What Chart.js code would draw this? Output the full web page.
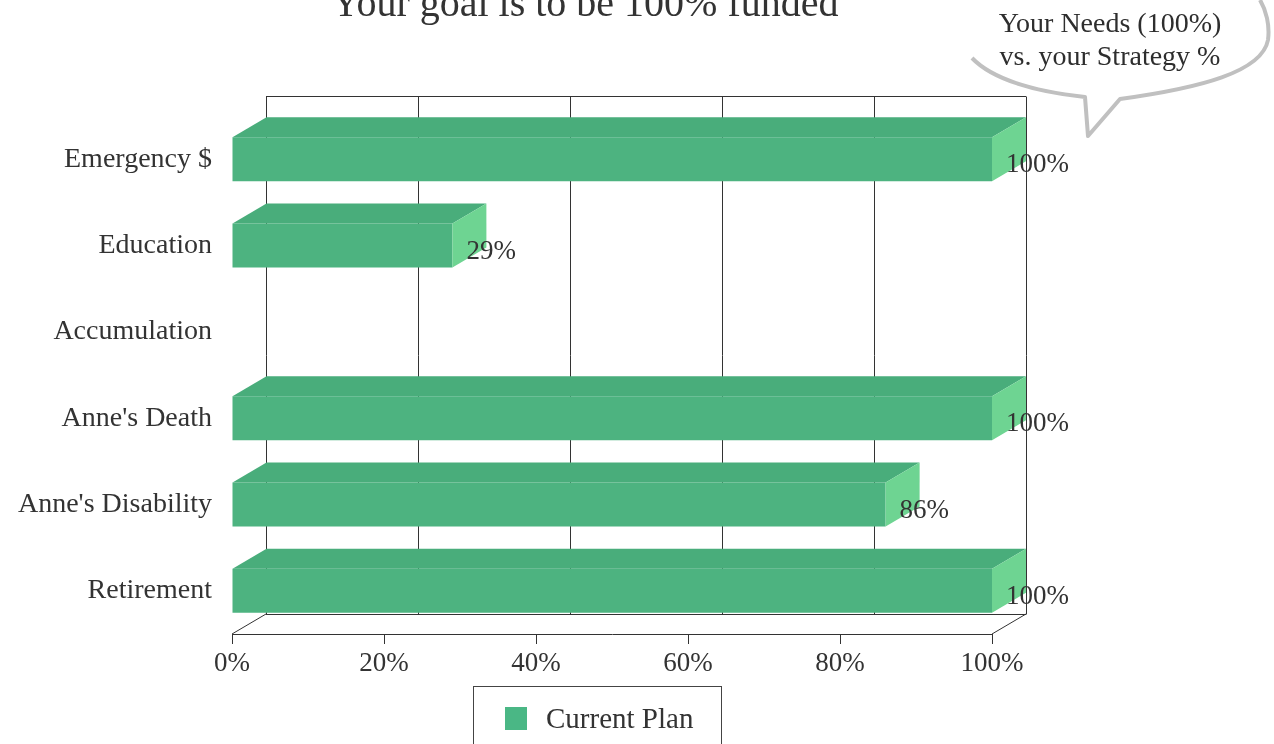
<!DOCTYPE html>
<html lang="en">
<head>
  <meta charset="UTF-8" />
  <title>Your goal is to be 100% funded</title>
  <script src="https://cdn.jsdelivr.net/npm/chart.js"></script>
  <style>
    body { margin: 0; background: #fff; }
    #wrap { position: relative; width: 1274px; height: 744px; overflow: hidden; font-family: 'Liberation Serif', 'Times New Roman', serif; color: #333; }
    #chart { position: absolute; left: 0; top: 0; }
    #title { position: absolute; left: 585px; top: -17px; transform: translateX(-50%); font-size: 40px; line-height: 40px; white-space: nowrap; }
    #bubble { position: absolute; left: 0; top: 0; }
    .note { position: absolute; left: 1110px; transform: translateX(-50%); font-size: 28px; line-height: 29px; white-space: nowrap; color: #2e2e2e; }
    #legend { position: absolute; left: 473px; top: 686px; width: 249px; height: 80px; border: 1px solid #444; box-sizing: border-box; }
    #legend .swatch { position: absolute; left: 31px; top: 20px; width: 22px; height: 23px; background: #4ab785; }
    #legend .label { position: absolute; left: 72px; top: 16px; font-size: 29px; line-height: 30px; white-space: nowrap; }
  </style>
</head>
<body>
  <div id="wrap">
    <canvas id="chart" width="1274" height="744"></canvas>
    <div id="title">Your goal is to be 100% funded</div>
    <svg id="bubble" width="1274" height="744">
      <path d="M 970 50 C 950 0, 1050 -40, 1130 -38 C 1230 -36, 1275 0, 1268 40 C 1262 72, 1200 88, 1120 99 L 1088 136 L 1086 97 C 1040 95, 990 82, 970 50 Z"
            fill="#fff" stroke="none" />
      <path d="M 972 58 C 995 82, 1040 92, 1085 97 L 1088 136 L 1120 99 C 1200 88, 1262 72, 1268 40 C 1270 25, 1266 10, 1260 0"
            fill="none" stroke="#c0c0c0" stroke-width="4" stroke-linejoin="round" />
    </svg>
    <div class="note" style="top:8px">Your Needs (100%)</div>
    <div class="note" style="top:41px">vs. your Strategy %</div>
    <div id="legend"><div class="swatch"></div><div class="label" id="legendLabel"></div></div>
  </div>

  <script>
    const categories = ['Emergency $', 'Education', 'Accumulation', "Anne's Death", "Anne's Disability", 'Retirement'];
    const currentPlan = [100, 29, 0, 100, 86, 100];
    const seriesName = 'Current Plan';

    // depth of the fake 3D extrusion
    const DX = 34, DY = -20;
    const FRONT = '#4db380', TOP = '#49ad7b', SIDE = '#6ed492';
    const serif = 'Liberation Serif';

    document.getElementById('legendLabel').textContent = seriesName;

    const line = (ctx, x1, y1, x2, y2) => {
      ctx.beginPath();
      ctx.moveTo(x1, y1);
      ctx.lineTo(x2, y2);
      ctx.stroke();
    };

    const box3d = {
      id: 'box3d',
      beforeDatasetsDraw(chart) {
        const { ctx, chartArea: a, scales: { x } } = chart;
        ctx.save();
        ctx.strokeStyle = '#333';
        ctx.lineWidth = 1;
        const top = Math.round(a.top + DY) + 0.5;
        const floor = Math.round(a.bottom + DY) + 0.5;
        // back wall
        line(ctx, a.left + DX, top, a.right + DX, top);
        x.ticks.forEach(t => {
          const px = Math.round(x.getPixelForValue(t.value) + DX) + 0.5;
          line(ctx, px, top, px, floor);
        });
        // floor
        line(ctx, a.left + DX, floor, a.right + DX, floor);
        line(ctx, a.left, a.bottom, a.left + DX, a.bottom + DY);
        line(ctx, a.right, a.bottom, a.right + DX, a.bottom + DY);
        ctx.restore();
      },
      afterDatasetsDraw(chart) {
        const { ctx } = chart;
        const meta = chart.getDatasetMeta(0);
        ctx.save();
        meta.data.forEach((bar, i) => {
          const v = currentPlan[i];
          if (!v) return;
          const { x, y, base, height } = bar.getProps(['x', 'y', 'base', 'height'], true);
          const y0 = y - height / 2, y1 = y + height / 2;
          // top face
          ctx.fillStyle = TOP;
          ctx.beginPath();
          ctx.moveTo(base, y0);
          ctx.lineTo(base + DX, y0 + DY);
          ctx.lineTo(x + DX, y0 + DY);
          ctx.lineTo(x, y0);
          ctx.closePath();
          ctx.fill();
          // end face
          ctx.fillStyle = SIDE;
          ctx.beginPath();
          ctx.moveTo(x, y0);
          ctx.lineTo(x + DX, y0 + DY);
          ctx.lineTo(x + DX, y1 + DY);
          ctx.lineTo(x, y1);
          ctx.closePath();
          ctx.fill();
          // value label
          ctx.fillStyle = '#333';
          ctx.font = `27px "${serif}"`;
          ctx.textAlign = 'left';
          ctx.textBaseline = 'middle';
          ctx.fillText(v + '%', x + 14, y + 6);
        });
        ctx.restore();
      }
    };

    new Chart(document.getElementById('chart'), {
      type: 'bar',
      data: {
        labels: categories,
        datasets: [{
          label: seriesName,
          data: currentPlan,
          backgroundColor: FRONT,
          borderWidth: 0,
          categoryPercentage: 1,
          barPercentage: 0.51
        }]
      },
      options: {
        indexAxis: 'y',
        responsive: false,
        animation: false,
        layout: { padding: { top: 116, right: 282, bottom: 0, left: 0 } },
        plugins: {
          legend: { display: false },
          tooltip: { enabled: false }
        },
        scales: {
          x: {
            min: 0,
            max: 100,
            afterFit: s => { s.height = 110; },
            ticks: {
              stepSize: 20,
              maxRotation: 0,
              padding: 4,
              color: '#333',
              font: { family: serif, size: 27 },
              callback: v => v + '%'
            },
            grid: { drawOnChartArea: false, tickLength: 10, color: '#333' },
            border: { display: true, color: '#333' }
          },
          y: {
            afterFit: s => { s.width = 232; },
            ticks: {
              padding: 12,
              color: '#333',
              font: { family: serif, size: 28 }
            },
            grid: { display: false },
            border: { display: false }
          }
        }
      },
      plugins: [box3d]
    });
  </script>
</body>
</html>
